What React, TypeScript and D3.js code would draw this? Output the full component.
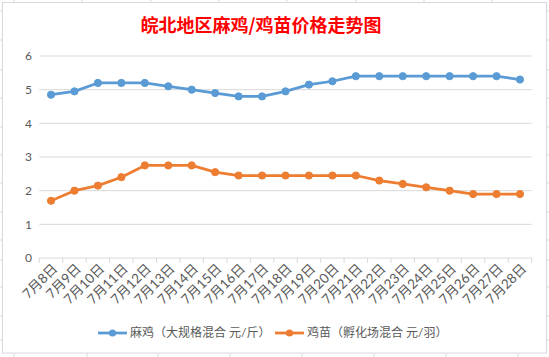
import React from "react";
import * as d3 from "d3";

const categories = ["7月8日","7月9日","7月10日","7月11日","7月12日","7月13日","7月14日","7月15日","7月16日","7月17日","7月18日","7月19日","7月20日","7月21日","7月22日","7月23日","7月24日","7月25日","7月26日","7月27日","7月28日"];
const majiValues = [4.85,4.95,5.2,5.2,5.2,5.1,5.0,4.9,4.8,4.8,4.95,5.15,5.25,5.4,5.4,5.4,5.4,5.4,5.4,5.4,5.3];
const jimiaoValues = [1.7,2.0,2.15,2.4,2.75,2.75,2.75,2.55,2.45,2.45,2.45,2.45,2.45,2.45,2.3,2.2,2.1,2.0,1.9,1.9,1.9];
const yTicks = [0,1,2,3,4,5,6];
const seriesNames = ["麻鸡（大规格混合 元/斤）","鸡苗（孵化场混合 元/羽）"];
const title = "皖北地区麻鸡/鸡苗价格走势图";

const W = 549, H = 357;
const FONT = "Lato, 'Noto Sans CJK SC', sans-serif";
const TXT = "#595959";
const GRID = "#d9d9d9";
const colors = ["#5B9BD5", "#ED7D31"];

const sheetTopX = [14, 82, 151, 219, 287, 356, 424, 492];
const sheetBottomX = [14, 87, 158, 230, 302, 374, 446, 518];
const sheetSideY = [11, 40, 70, 98, 127, 155, 183, 212, 240, 260, 287, 316, 340];

export default function App() {
  const x = d3.scaleBand<string>().domain(categories).range([39.3, 531.7]).padding(0);
  const y = d3.scaleLinear().domain([0, 6]).range([258, 56]);
  const cx = (c: string) => (x(c) as number) + x.bandwidth() / 2;
  const line = d3.line<number>().x((_, i) => cx(categories[i])).y((d) => y(d));
  const series = [majiValues, jimiaoValues];
  const legendX = [98, 275];

  return (
    <svg width={W} height={H} style={{ position: "absolute", left: 0, top: 0, background: "#fff" }} fontFamily={FONT}>
      {sheetTopX.map((v, i) => <line key={"t" + i} x1={v} x2={v} y1={0} y2={2.5} stroke={GRID} />)}
      {sheetBottomX.map((v, i) => <line key={"b" + i} x1={v} x2={v} y1={353} y2={357} stroke={GRID} />)}
      {sheetSideY.map((v, i) => <line key={"l" + i} x1={0} x2={2.5} y1={v} y2={v} stroke={GRID} />)}
      {sheetSideY.map((v, i) => <line key={"r" + i} x1={546.5} x2={549} y1={v} y2={v} stroke={GRID} />)}
      <rect x={2.5} y={2.5} width={544} height={350.5} fill="#fff" stroke={GRID} />
      <text x={261} y={32} textAnchor="middle" fill="#FF0000" fontSize={18} fontWeight="bold" fontFamily="'Noto Sans CJK SC', sans-serif">{title}</text>
      {yTicks.map((t) => (
        <g key={t}>
          {t > 0 && <line x1={39.3} x2={531.7} y1={y(t)} y2={y(t)} stroke={GRID} />}
          <text x={32} y={y(t)} dy="0.35em" textAnchor="end" fill={TXT} fontSize={12}>{t}</text>
        </g>
      ))}
      <line x1={39.3} x2={531.7} y1={y(0)} y2={y(0)} stroke={GRID} />
      {categories.map((c) => (
        <line key={"tk" + c} x1={x(c) as number} x2={x(c) as number} y1={y(0)} y2={y(0) + 5} stroke={GRID} />
      ))}
      <line x1={531.7} x2={531.7} y1={y(0)} y2={y(0) + 5} stroke={GRID} />
      {categories.map((c) => (
        <text key={"xl" + c} transform={`translate(${cx(c) + 4},${y(0) + 8}) rotate(-45)`} textAnchor="end" dy="0.35em" fill={TXT} fontSize={13.5}>{c}</text>
      ))}
      {series.map((vals, si) => (
        <g key={"s" + si}>
          <path d={line(vals) as string} fill="none" stroke={colors[si]} strokeWidth={2.75} strokeLinejoin="round" strokeLinecap="round" />
          {vals.map((v, i) => (
            <circle key={i} cx={cx(categories[i])} cy={y(v)} r={3.6} fill={colors[si]} stroke={colors[si]} />
          ))}
        </g>
      ))}
      {seriesNames.map((n, si) => (
        <g key={"lg" + si} transform={`translate(${legendX[si]},333)`}>
          <line x1={0} x2={29} y1={0} y2={0} stroke={colors[si]} strokeWidth={2.75} />
          <circle cx={14.5} cy={0} r={3.6} fill={colors[si]} />
          <text x={32} y={0} dy="0.35em" fill={TXT} fontSize={12}>{n}</text>
        </g>
      ))}
    </svg>
  );
}
